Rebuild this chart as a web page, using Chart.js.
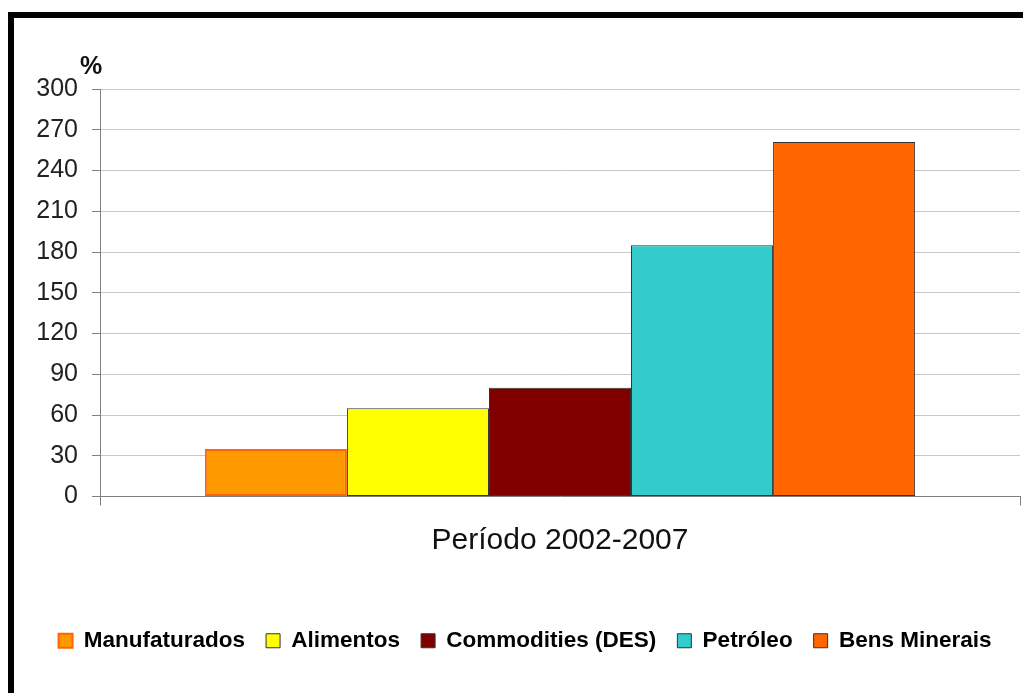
<!DOCTYPE html>
<html>
<head>
<meta charset="utf-8">
<script src="https://cdn.jsdelivr.net/npm/chart.js@4.4.0/dist/chart.umd.min.js"></script>
<style>
  html, body { margin: 0; padding: 0; background: #fff; }
  #wrap { position: relative; width: 1023px; height: 693px; overflow: hidden; }
  #frame { position: absolute; left: 8px; top: 12px; right: -10px; bottom: -10px;
           border-top: 6px solid #000; border-left: 6px solid #000; pointer-events: none; }
  canvas { position: absolute; left: 0; top: 0; }
</style>
</head>
<body>
<div id="wrap">
  <canvas id="chart" width="1023" height="693"></canvas>
  <div id="frame"></div>
</div>
<script>
  // dados (variação % no período)
  var CATEGORIES = ['Período 2002-2007'];
  var SERIES = ['Manufaturados', 'Alimentos', 'Commodities (DES)', 'Petróleo', 'Bens Minerais'];
  var VALUES = [35, 65, 80, 185, 261];
  var Y_TICKS = [0, 30, 60, 90, 120, 150, 180, 210, 240, 270, 300];

  var FILLS = ['#FF9900', '#FFFF00', '#800000', '#33CCCC', '#FF6600'];
  var BORDERS = ['#FF6600', '#333333', '#333333', '#333333', '#333333'];
  var FONT = '"Liberation Sans", Arial, sans-serif';

  var datasets = SERIES.map(function (name, i) {
    return {
      label: name,
      data: [VALUES[i]],
      backgroundColor: FILLS[i],
      borderColor: BORDERS[i],
      borderWidth: i === 0 ? 2 : 1,
      borderSkipped: false,
      categoryPercentage: 0.772,
      barPercentage: 1
    };
  });

  /* rótulo "%" sobre o eixo vertical */
  var percentLabel = {
    id: 'percentLabel',
    afterDraw: function (chart) {
      var ctx = chart.ctx;
      var y = chart.scales.y;
      ctx.save();
      ctx.font = 'bold 25px ' + FONT;
      ctx.fillStyle = '#111';
      ctx.textAlign = 'center';
      ctx.textBaseline = 'middle';
      ctx.fillText('%', y.right - 9, y.top - 22);
      ctx.restore();
    }
  };

  new Chart(document.getElementById('chart'), {
    type: 'bar',
    data: { labels: CATEGORIES, datasets: datasets },
    options: {
      responsive: false,
      animation: false,
      layout: { padding: { top: 89, right: 3, left: 30, bottom: 31 } },
      scales: {
        x: {
          offset: true,
          grid: { offset: true, drawOnChartArea: false, drawTicks: true, tickLength: 9, color: '#808080', lineWidth: 1 },
          border: { color: '#808080', width: 1 },
          ticks: { color: '#111', padding: 17, font: { family: FONT, size: 30 } },
          afterFit: function (scale) { scale.height = 112; }
        },
        y: {
          min: 0,
          max: 300,
          afterBuildTicks: function (scale) {
            scale.ticks = Y_TICKS.map(function (v) { return { value: v }; });
          },
          grid: { color: '#c8c8c8', tickColor: '#808080', tickLength: 8, lineWidth: 1 },
          border: { color: '#808080', width: 1 },
          ticks: { color: '#222', padding: 14, font: { family: FONT, size: 25 } },
          afterFit: function (scale) { scale.width = 70; }
        }
      },
      plugins: {
        legend: {
          position: 'bottom',
          labels: {
            boxWidth: 14,
            boxHeight: 14,
            padding: 21,
            color: '#000',
            font: { family: FONT, size: 22.5, weight: 'bold' }
          }
        },
        tooltip: { enabled: false }
      }
    },
    plugins: [percentLabel]
  });
</script>
</body>
</html>
